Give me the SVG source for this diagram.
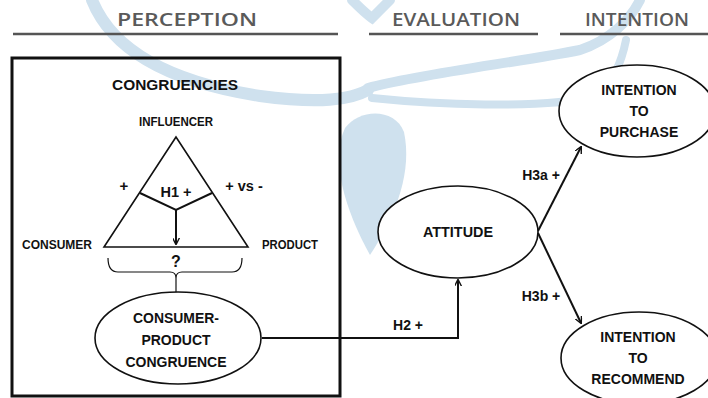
<svg xmlns="http://www.w3.org/2000/svg" width="708" height="398" viewBox="0 0 708 398">
<style>
.hdr{font-family:"Open Sans","Liberation Sans",Arial,sans-serif;font-weight:600;font-size:18px;fill:#5a5a5a;text-anchor:middle}
.t{font-family:"Liberation Sans",Arial,sans-serif;font-weight:bold;fill:#111;text-anchor:middle}
.m{font-size:14px}
.node{fill:#fff;stroke:#111;stroke-width:1.6}
.wm{fill:none;stroke:#cfe1ee;stroke-linecap:round}
.ln{fill:none;stroke:#111;stroke-width:2}
</style>
<defs>
<marker id="ah" viewBox="0 0 10 10" refX="9" refY="5" markerWidth="7" markerHeight="7" orient="auto-start-reverse" markerUnits="userSpaceOnUse">
<path d="M0,0 L10,5 L0,10" fill="none" stroke="#111" stroke-width="2"/>
</marker>
</defs>
<rect width="708" height="398" fill="#fff"/>
<g id="watermark">
<path class="wm" stroke-width="12" d="M92,0 C112,50 170,82 260,96 C320,104 350,100 368,90"/>
<path class="wm" stroke-width="10" d="M368,88 C420,74 520,62 580,50 C610,40 630,20 640,0"/>
<path class="wm" stroke-width="8" d="M372,98 C430,104 540,110 598,96 C615,80 622,60 626,40"/>
<path class="wm" stroke-width="10" d="M352,0 C360,8 366,14 372,18 C378,12 384,6 390,0"/>
<path d="M370,255 C345,210 330,160 345,128 C360,108 395,108 404,132 C412,170 398,212 370,255 Z" fill="#cfe1ee"/>
</g>
<g id="headers">
<text class="hdr" x="187" y="26" textLength="140" lengthAdjust="spacingAndGlyphs">PERCEPTION</text>
<text class="hdr" x="456" y="26" textLength="128" lengthAdjust="spacingAndGlyphs">EVALUATION</text>
<text class="hdr" x="637" y="26" textLength="104" lengthAdjust="spacingAndGlyphs">INTENTION</text>
<line x1="13" y1="34" x2="338" y2="34" stroke="#555" stroke-width="2.5"/>
<line x1="369" y1="34" x2="538" y2="34" stroke="#555" stroke-width="2.5"/>
<line x1="560" y1="34" x2="708" y2="34" stroke="#555" stroke-width="2.5"/>
</g>
<g id="perception-box">
<rect x="12" y="58" width="328" height="338" fill="none" stroke="#111" stroke-width="3"/>
<text class="t" x="175" y="90" font-size="15.5" textLength="126" lengthAdjust="spacingAndGlyphs">CONGRUENCIES</text>
</g>
<g id="triangle">
<text class="t" x="176" y="126" font-size="12" textLength="74" lengthAdjust="spacingAndGlyphs">INFLUENCER</text>
<path d="M176,137 L104,247 L248,247 Z" fill="none" stroke="#111" stroke-width="1.6"/>
<path d="M140,193 L176,210 L212,193" class="ln"/>
<line x1="176" y1="210" x2="176" y2="244" class="ln" marker-end="url(#ah)"/>
<text class="t" x="124" y="191" font-size="15">+</text>
<text class="t" x="176" y="197" font-size="14.5">H1 +</text>
<text class="t" x="244" y="191" font-size="14.5">+ vs  -</text>
<text class="t" x="57" y="249" font-size="12.5" textLength="70" lengthAdjust="spacingAndGlyphs">CONSUMER</text>
<text class="t" x="290" y="249" font-size="12.5" textLength="56" lengthAdjust="spacingAndGlyphs">PRODUCT</text>
<text class="t" x="176" y="267" font-size="16">?</text>
<path d="M108,258 Q108,272 118,272 L170,272 Q176,272 176,278 Q176,272 182,272 L232,272 Q242,272 242,258" fill="none" stroke="#111" stroke-width="1.2"/>
<line x1="176" y1="278" x2="176" y2="292" stroke="#111" stroke-width="1.2"/>
</g>
<g id="connectors">
<path d="M262,338 L458,338 L458,280" class="ln" marker-end="url(#ah)"/>
<line x1="538" y1="231" x2="581" y2="147" class="ln" marker-end="url(#ah)"/>
<line x1="538" y1="233" x2="581" y2="323" class="ln" marker-end="url(#ah)"/>
<text class="t m" x="408" y="330">H2 +</text>
<text class="t m" x="541" y="180">H3a +</text>
<text class="t m" x="541" y="301">H3b +</text>
</g>
<g id="node-cpc">
<ellipse class="node" cx="178" cy="338" rx="83" ry="46"/>
<text class="t m" x="176" y="323" textLength="86" lengthAdjust="spacingAndGlyphs">CONSUMER-</text>
<text class="t m" x="176" y="345">PRODUCT</text>
<text class="t m" x="176" y="367">CONGRUENCE</text>
</g>
<g id="node-attitude">
<ellipse class="node" cx="458" cy="232" rx="80" ry="46"/>
<text class="t m" x="458" y="237" textLength="70" lengthAdjust="spacingAndGlyphs">ATTITUDE</text>
</g>
<g id="node-purchase">
<ellipse class="node" cx="637" cy="111" rx="78" ry="46"/>
<text class="t m" x="639" y="95">INTENTION</text>
<text class="t m" x="639" y="116">TO</text>
<text class="t m" x="639" y="137">PURCHASE</text>
</g>
<g id="node-recommend">
<ellipse class="node" cx="639" cy="358" rx="78" ry="46"/>
<text class="t m" x="638" y="342">INTENTION</text>
<text class="t m" x="638" y="363">TO</text>
<text class="t m" x="638" y="384">RECOMMEND</text>
</g>
</svg>
